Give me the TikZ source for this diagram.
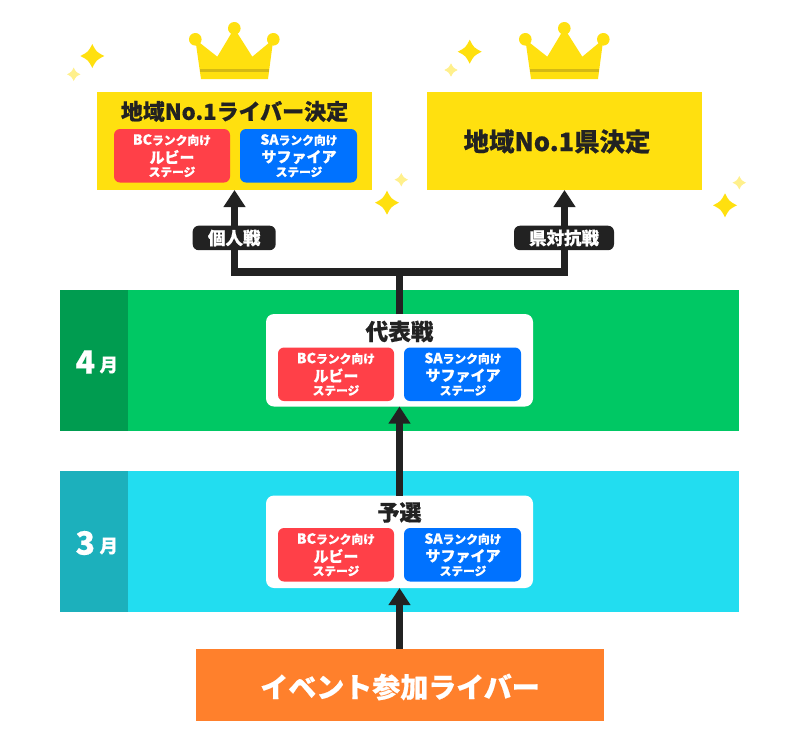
\documentclass[tikz,border=0pt]{standalone}
\usepackage{fontspec}
\setmainfont{Noto Sans CJK JP}[BoldFeatures={FakeBold=0.5}]
\usetikzlibrary{arrows.meta,calc}
\definecolor{cyel}{HTML}{FFE00F}
\definecolor{cyellt}{HTML}{FFF08C}
\definecolor{cband}{HTML}{D4B914}
\definecolor{cred}{HTML}{FF4048}
\definecolor{cblue}{HTML}{0072FF}
\definecolor{cgreen}{HTML}{00C864}
\definecolor{cgreend}{HTML}{009C50}
\definecolor{ccyan}{HTML}{22DDF0}
\definecolor{ccyand}{HTML}{1CB0BC}
\definecolor{corange}{HTML}{FF802C}
\definecolor{cink}{HTML}{222222}
\newcommand{\fsz}[1]{\fontsize{#1}{#1}\selectfont\bfseries}
\tikzset{
  blockbox/.style={inner sep=0pt,outer sep=0pt,anchor=north west},
  stagebox/.style={blockbox,rounded corners=6pt,minimum height=53.5pt},
  whitebox/.style={blockbox,fill=white,rounded corners=8pt,minimum width=267pt,minimum height=92.5pt},
  tagbox/.style={blockbox,fill=cink,rounded corners=6pt,minimum height=24.5pt},
  txt/.style={inner sep=0pt,outer sep=0pt,anchor=center},
  wtxt/.style={txt,text=white},
  ktxt/.style={txt,text=cink},
  pipe/.style={draw=cink,line width=7.5pt},
  arrowpipe/.style={pipe,-{Triangle[width=21pt,length=17pt]}},
}
% red and blue stage boxes with their three lines of text
\newcommand{\stagepair}[4]{%
  \node[stagebox,fill=cred,minimum width=116pt] (#1r) at (#2,#4) {};
  \node[stagebox,fill=cblue,minimum width=117pt] (#1b) at (#3,#4) {};
  \node[wtxt] (#1r1) at ($(#2,#4)+(58,11)$) {{\fsz{14}BC}{\fsz{11.8}ランク向け}};
  \node[wtxt] (#1r2) at ($(#2,#4)+(58,28)$) {\fsz{15}ルビー};
  \node[wtxt] (#1r3) at ($(#2,#4)+(58,43)$) {\fsz{11.7}ステージ};
  \node[wtxt] (#1b1) at ($(#3,#4)+(59,11)$) {{\fsz{14}SA}{\fsz{11.8}ランク向け}};
  \node[wtxt] (#1b2) at ($(#3,#4)+(59,28)$) {\fsz{15}サファイア};
  \node[wtxt] (#1b3) at ($(#3,#4)+(59,43)$) {\fsz{11.7}ステージ};
}
\newcommand{\crown}[1]{%
  \begin{scope}[shift={(#1,0)}]
    \fill[cyel] (-33.3,79) -- (-39,39.3) -- (-17,56.7) -- (0,28.3) -- (18,56.7) -- (39,39.3) -- (33.7,79) -- cycle;
    \fill[cyel] (-39,39.3) circle (6.3) (0,28.3) circle (6.3) (39,39.3) circle (6.3);
    \fill[cband] (-34,68.7) rectangle (34.7,72);
  \end{scope}}
\newcommand{\sparkle}[4]{%
  \fill[#4] (#1,#2-#3) .. controls (#1+.34*#3,#2-.34*#3) .. (#1+#3,#2)
     .. controls (#1+.34*#3,#2+.34*#3) .. (#1,#2+#3)
     .. controls (#1-.34*#3,#2+.34*#3) .. (#1-#3,#2)
     .. controls (#1-.34*#3,#2-.34*#3) .. (#1,#2-#3) -- cycle;}
\begin{document}
\begin{tikzpicture}[x=1pt,y=-1pt]
\useasboundingbox (0,0) rectangle (800,750);
\fill[white] (0,0) rectangle (800,750);
% crowns and sparkles
\crown{234.3}
\crown{564.3}
\sparkle{92.3}{56}{12}{cyel}
\sparkle{73.7}{74.3}{6.7}{cyellt}
\sparkle{387}{202.7}{12}{cyel}
\sparkle{401.3}{179.7}{6.7}{cyellt}
\sparkle{469.7}{51.7}{12}{cyel}
\sparkle{451}{70}{6.7}{cyellt}
\sparkle{725}{205.3}{12}{cyel}
\sparkle{739.3}{182.7}{6.7}{cyellt}
% bands
\node[blockbox,fill=cgreen,minimum width=679pt,minimum height=141.5pt] (bandapr) at (60,289.5) {};
\node[blockbox,fill=cgreend,minimum width=67.7pt,minimum height=141.5pt] (tabapr) at (60,289.5) {};
\node[blockbox,fill=ccyan,minimum width=679pt,minimum height=141.5pt] (bandmar) at (60,470.5) {};
\node[blockbox,fill=ccyand,minimum width=67.7pt,minimum height=141.5pt] (tabmar) at (60,470.5) {};
\node[wtxt] (m4) at (85.3,362) {\fsz{32}4};
\node[wtxt] (m4b) at (108.8,365) {\fsz{18.5}月};
\node[wtxt] (m3) at (85.3,543) {\fsz{32}3};
\node[wtxt] (m3b) at (108.8,546) {\fsz{18.5}月};
% boxes
\node[blockbox,fill=cyel,minimum width=275pt,minimum height=98pt] (goalL) at (97,92) {};
\node[blockbox,fill=cyel,minimum width=275pt,minimum height=98pt] (goalR) at (427,92) {};
\node[whitebox] (final) at (266,314) {};
\node[whitebox] (qual) at (266,495.5) {};
\node[blockbox,fill=corange,minimum width=408pt,minimum height=72.5pt] (entry) at (196,648.5) {};
% connectors
\coordinate (hub) at (399.5,272);
\draw[pipe] (final.north) -- (hub);
\draw[arrowpipe] (hub) -| (goalL.south);
\draw[arrowpipe] (hub) -| (goalR.south);
\draw[arrowpipe] (qual.north) -- (final.south);
\draw[arrowpipe] (entry.north -| qual.south) -- (qual.south);
% connector tags
\node[tagbox,minimum width=83pt] (tagL) at (192.7,225.7) {};
\node[tagbox,minimum width=100pt] (tagR) at (514,225.7) {};
\node[wtxt] (tagLt) at (234.2,238) {\fsz{17.5}個人戦};
\node[wtxt] (tagRt) at (564,238) {\fsz{17.5}県対抗戦};
% texts
\node[ktxt] (goalLt) at (234.5,111.5) {\fsz{22}地域No.1ライバー決定};
\node[ktxt] (goalRt) at (557,141.5) {\fsz{25.4}地域No.1県決定};
\node[ktxt] (finalt) at (399.5,331.5) {\fsz{22.6}代表戦};
\node[ktxt] (qualt) at (399.5,512.5) {\fsz{22}予選};
\node[wtxt] (entryt) at (400,687) {\fsz{28}イベント参加ライバー};
% stages
\stagepair{a}{114}{240}{129}
\stagepair{c}{278}{404}{347.5}
\stagepair{d}{278}{404}{528}
\end{tikzpicture}
\end{document}
